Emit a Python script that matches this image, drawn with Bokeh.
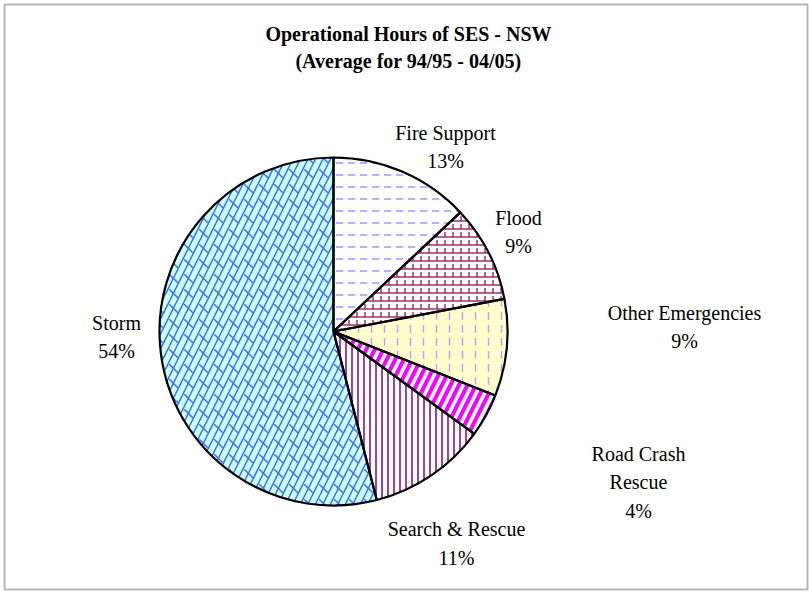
import numpy as np
from bokeh.plotting import figure
from bokeh.models import Range1d, BoxAnnotation, Label, ColumnDataSource
from bokeh.core.properties import value
from bokeh.embed import file_html
from bokeh.resources import INLINE

# ---- data ----
categories = ["Fire Support", "Flood", "Other Emergencies", "Road Crash Rescue", "Search & Rescue", "Storm"]
percent = [13, 9, 9, 4, 11, 54]
label_text = ["Fire Support\n13%", "Flood\n9%", "Other Emergencies\n9%",
              "Road Crash\nRescue\n4%", "Search & Rescue\n11%", "Storm\n54%"]
title_lines = ["Operational Hours of SES - NSW", "(Average for 94/95 - 04/05)"]

# ---- styles ----
bg_colors = ["#ffffff", "#ffffff", "#ffffcc", "#ccffff", "#ffffff", "#ccffff"]
hatch1 = ["horizontal_dash", "horizontal_line", "vertical_dash", "right_diagonal_line", "vertical_line", "right_diagonal_line"]
hatch1_color = ["#9999ff", "#993366", "#cc99ff", "#ff00ff", "#800080", "#3d6cff"]
hatch1_scale = [12, 8, 13, 17, 6, 15]
hatch1_weight = [1.5, 1.5, 1.5, 4, 1.5, 1.5]
hatch2 = [" ", "vertical_dash", " ", " ", " ", "left_diagonal_dash"]
hatch2_color = ["#9999ff", "#993366", "#cc99ff", "#ff00ff", "#800080", "#3d6cff"]
hatch2_scale = [12, 8, 13, 14, 6, 15]
hatch2_weight = [1.5, 1.5, 1.5, 5, 1.5, 1.5]

# layout (page pixel coordinates -> data with y flipped)
W, H = 809, 592
def Y(py):
    return H - py

cx, cy, R = 333, Y(331), 174
label_pos = [(445, 146.5), (518, 231.5), (684, 326.5), (638, 482), (456, 543), (116, 336.5)]

frac = np.array(percent, dtype=float) / sum(percent)
cum = np.concatenate([[0], np.cumsum(frac)])
start = np.pi / 2 - 2 * np.pi * cum[:-1]
end = np.pi / 2 - 2 * np.pi * cum[1:]

src = ColumnDataSource(dict(
    x=[cx] * len(percent), y=[cy] * len(percent), start=start, end=end,
    bg=bg_colors, h1=hatch1, h1c=hatch1_color, h1s=hatch1_scale, h1w=hatch1_weight,
    h2=hatch2, h2c=hatch2_color, h2s=hatch2_scale, h2w=hatch2_weight,
))

p = figure(width=W, height=H, x_range=Range1d(0, W), y_range=Range1d(0, H),
           output_backend="svg", toolbar_location=None, min_border=0,
           x_axis_location=None, y_axis_location=None)
p.grid.visible = False
p.outline_line_color = None
p.background_fill_color = "white"
p.border_fill_color = "white"

p.wedge(x="x", y="y", radius=R, start_angle="start", end_angle="end", direction="clock",
        source=src, fill_color="bg", line_color=None,
        hatch_pattern="h1", hatch_color="h1c", hatch_scale="h1s", hatch_weight="h1w")
p.wedge(x="x", y="y", radius=R, start_angle="start", end_angle="end", direction="clock",
        source=src, fill_alpha=0, line_color=None,
        hatch_pattern="h2", hatch_color="h2c", hatch_scale="h2s", hatch_weight="h2w")
p.wedge(x="x", y="y", radius=R, start_angle="start", end_angle="end", direction="clock",
        source=src, fill_alpha=0, line_color="black", line_width=2.2)

lab = ColumnDataSource(dict(x=[a for a, b in label_pos], y=[Y(b) for a, b in label_pos], t=label_text))
p.text(x="x", y="y", text="t", source=lab, text_font=value("Liberation Serif"),
       text_font_size="20px", text_align="center", text_baseline="middle",
       text_line_height=1.3, text_color="black")

for t, py in zip(title_lines, [33, 60]):
    p.add_layout(Label(x=408, y=Y(py), text=t, text_font="Liberation Serif", text_font_size="20px",
                       text_font_style="bold", text_align="center", text_baseline="middle",
                       text_color="black"))

p.add_layout(BoxAnnotation(left=4, right=807, bottom=Y(589), top=Y(4), fill_alpha=0,
                           line_color="#111111", line_width=2))

open("out.html", "w").write(file_html(p, INLINE))
